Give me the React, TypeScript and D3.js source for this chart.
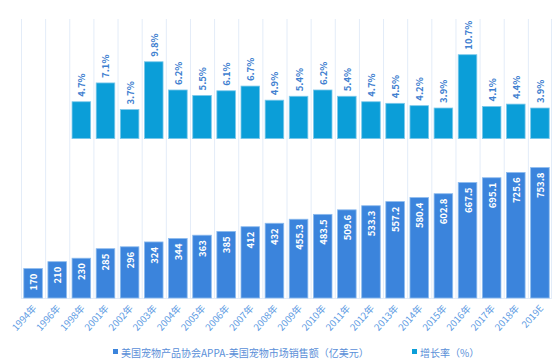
import React from "react";
import * as d3 from "d3";

const years = ["1994年","1996年","1998年","2001年","2002年","2003年","2004年","2005年","2006年","2007年","2008年","2009年","2010年","2011年","2012年","2013年","2014年","2015年","2016年","2017年","2018年","2019E"];
const sales = [170,210,230,285,296,324,344,363,385,412,432,455.3,483.5,509.6,533.3,557.2,580.4,602.8,667.5,695.1,725.6,753.8];
const salesLabels = ["170","210","230","285","296","324","344","363","385","412","432","455.3","483.5","509.6","533.3","557.2","580.4","602.8","667.5","695.1","725.6","753.8"];
const growth: (number | null)[] = [null,null,4.7,7.1,3.7,9.8,6.2,5.5,6.1,6.7,4.9,5.4,6.2,5.4,4.7,4.5,4.2,3.9,10.7,4.1,4.4,3.9];
const legendNames = ["美国宠物产品协会APPA-美国宠物市场销售额（亿美元）","增长率（%）"];

const W = 554, H = 359;
const left = 21, right = 552, top = 19, bottom = 298;
const salesColor = "#3b84dc";
const growthColor = "#0b9ed8";
const font = "'Noto Sans CJK SC', 'Noto Sans', sans-serif";

export default function App() {
  const x = d3.scaleBand<string>().domain(years).range([left, right]).paddingInner(0.23).paddingOuter(0.115);
  const grid = d3.scaleBand<string>().domain(years).range([left, right]);
  const yS = d3.scaleLinear().domain([0, 800]).range([bottom, 159.6]);
  const yG = d3.scaleLinear().domain([0, 15]).range([138.6, 21]);
  const bw = x.bandwidth();
  return (
    <svg width={W} height={H} style={{ position: "absolute", left: 0, top: 0, background: "#fff" }}>
      {years.map((y, i) => (
        <line key={"g" + i} x1={grid(y)! + 0.5} x2={grid(y)! + 0.5} y1={top} y2={bottom} stroke="#e3ecf8" strokeWidth={1} />
      ))}
      <line x1={right - 0.5} x2={right - 0.5} y1={top} y2={bottom} stroke="#e3ecf8" />
      <line x1={left} x2={right} y1={bottom + 0.5} y2={bottom + 0.5} stroke="#e3ecf8" />
      {years.map((y, i) => {
        const g = growth[i];
        if (g == null) return null;
        const bx = x(y)!;
        const ty = yG(g);
        return (
          <g key={"gb" + i}>
            <rect x={bx} y={ty} width={bw} height={yG(0) - ty} fill={growthColor} stroke="#7cc8ea" strokeWidth={0.8} />
            <text transform={`translate(${bx + bw / 2},${ty - 5}) rotate(-90)`} textAnchor="start" dominantBaseline="central"
              fontSize={9.5} fontWeight={700} fill="#3f7fd0" fontFamily={font}>{g.toFixed(1)}%</text>
          </g>
        );
      })}
      {years.map((y, i) => {
        const bx = x(y)!;
        const ty = yS(sales[i]);
        return (
          <g key={"sb" + i}>
            <rect x={bx} y={ty} width={bw} height={yS(0) - ty} fill={salesColor} stroke="#8dbbee" strokeWidth={0.8} />
            <text transform={`translate(${bx + bw / 2},${ty + 5}) rotate(-90)`} textAnchor="end" dominantBaseline="central"
              fontSize={9.5} fontWeight={700} fill="#ffffff" fontFamily={font}>{salesLabels[i]}</text>
          </g>
        );
      })}
      {years.map((y, i) => (
        <text key={"xl" + i} transform={`translate(${grid(y)! + grid.bandwidth() / 2 + 1},${bottom + 8}) rotate(-48)`}
          textAnchor="end" dominantBaseline="central" fontSize={9.5} fill="#5d9be3" fontFamily={font}>{y}</text>
      ))}
      <rect x={113} y={349} width={5} height={5} fill={salesColor} />
      <text x={121} y={352} dominantBaseline="central" fontSize={10} fill="#5a8fd8" fontFamily={font}>{legendNames[0]}</text>
      <rect x={412} y={349} width={5} height={5} fill={growthColor} />
      <text x={420} y={352} dominantBaseline="central" fontSize={10} fill="#5a8fd8" fontFamily={font}>{legendNames[1]}</text>
    </svg>
  );
}
